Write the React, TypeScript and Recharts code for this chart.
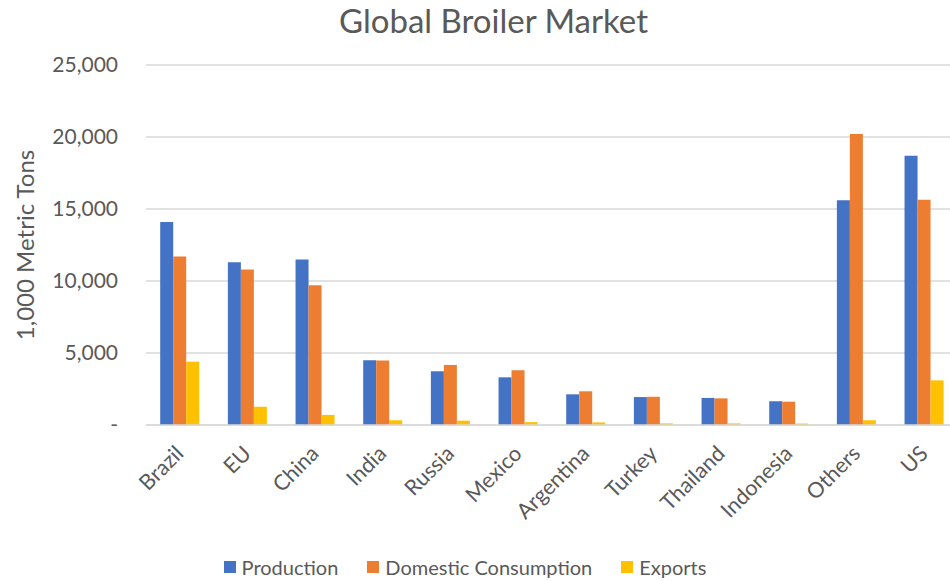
import React from "react";
import { BarChart, Bar, XAxis, YAxis, CartesianGrid, Label } from "recharts";

const categories = ["Brazil", "EU", "China", "India", "Russia", "Mexico", "Argentina", "Turkey", "Thailand", "Indonesia", "Others", "US"];
const production = [14100, 11300, 11500, 4500, 3730, 3310, 2130, 1940, 1880, 1650, 15600, 18700];
const consumption = [11700, 10800, 9700, 4480, 4170, 3800, 2340, 1960, 1850, 1620, 20200, 15650];
const exportsVals = [4400, 1270, 700, 330, 300, 200, 180, 110, 110, 100, 330, 3100];
const yTicks = [0, 5000, 10000, 15000, 20000, 25000];

const seriesNames = ["Production", "Domestic Consumption", "Exports"];
const colors = ["#4472C4", "#ED7D31", "#FFC000"];

const data = categories.map((c, i) => ({
  name: c,
  production: production[i],
  consumption: consumption[i],
  exports: exportsVals[i],
}));

const FONT = "Lato, 'Open Sans', sans-serif";
const TEXT = "#595959";

const fmt = (v: number) => (v === 0 ? "-" : v.toLocaleString("en-US"));

const XTick = (props: any) => {
  const { x, y, payload } = props;
  const ax = x + 5;
  const ay = y + 30;
  return (
    <text
      x={ax}
      y={ay}
      transform={`rotate(-45, ${ax}, ${ay})`}
      textAnchor="end"
      fill={TEXT}
      fontSize={21.5}
      fontFamily={FONT}
    >
      {payload.value}
    </text>
  );
};

export default function App() {
  return (
    <div style={{ position: "relative", width: 950, height: 581, overflow: "hidden", fontFamily: FONT, background: "#fff" }}>
      <style>{`body{margin:0}`}</style>
      <div
        style={{
          position: "absolute",
          top: 0,
          left: 0,
          width: 987,
          textAlign: "center",
          fontSize: 33,
          lineHeight: "40px",
          color: TEXT,
        }}
      >
        Global Broiler Market
      </div>
      <BarChart
        width={958}
        height={581}
        data={data}
        margin={{ top: 65, right: 0, bottom: 0, left: 0 }}
        barCategoryGap="21%"
        barGap={0}
      >
        <CartesianGrid vertical={false} stroke="#d9d9d9" strokeWidth={1.5} />
        <XAxis
          dataKey="name"
          height={156}
          tickSize={0}
          tickMargin={0}
          interval={0}
          tick={<XTick />}
          axisLine={{ stroke: "#d9d9d9", strokeWidth: 1.5 }}
          tickLine={false}
        />
        <YAxis
          width={146}
          domain={[0, 25000]}
          ticks={yTicks}
          tickFormatter={fmt}
          axisLine={false}
          tickLine={false}
          tickSize={0}
          tickMargin={28}
          tick={{ fill: TEXT, fontSize: 21, fontFamily: FONT }}
        >
          <Label
            content={() => (
              <text
                x={24}
                y={245}
                transform="rotate(-90, 24, 245)"
                textAnchor="middle"
                dominantBaseline="central"
                fill={TEXT}
                fontSize={24}
                fontFamily={FONT}
              >
                1,000 Metric Tons
              </text>
            )}
          />
        </YAxis>
        <Bar dataKey="production" name={seriesNames[0]} fill={colors[0]} isAnimationActive={false} />
        <Bar dataKey="consumption" name={seriesNames[1]} fill={colors[1]} isAnimationActive={false} />
        <Bar dataKey="exports" name={seriesNames[2]} fill={colors[2]} isAnimationActive={false} />
      </BarChart>
      <div
        style={{
          position: "absolute",
          top: 555,
          left: 0,
          width: 930,
          display: "flex",
          justifyContent: "center",
          gap: 29,
          fontSize: 20,
          color: TEXT,
          lineHeight: "24px",
        }}
      >
        {seriesNames.map((n, i) => (
          <div key={n} style={{ display: "flex", alignItems: "center" }}>
            <span style={{ display: "inline-block", width: 12, height: 12, background: colors[i], marginRight: 6 }} />
            <span>{n}</span>
          </div>
        ))}
      </div>
    </div>
  );
}
